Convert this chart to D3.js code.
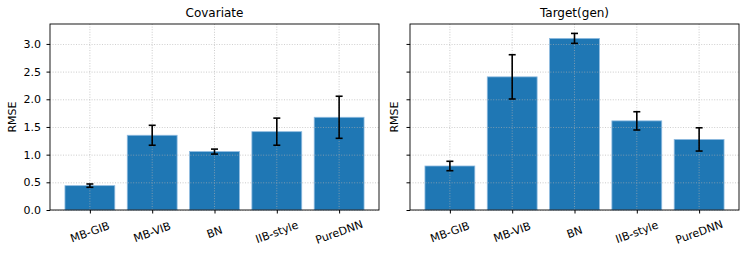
<!DOCTYPE html>
<html>
<head>
<meta charset="utf-8">
<script src="https://cdn.jsdelivr.net/npm/d3@7"></script>
<style>
  body { margin: 0; background: #fff; }
  text { font-family: "DejaVu Sans", sans-serif; fill: #000; }
</style>
</head>
<body>
<div id="chart"></div>
<script>
// methods shown on the x axis
const methods = ["MB-GIB", "MB-VIB", "BN", "IIB-style", "PureDNN"];

// Covariate panel
const covMean = [0.44, 1.35, 1.055, 1.415, 1.675];
const covErr = [0.03, 0.18, 0.045, 0.245, 0.38];

// Target(gen) panel
const genMean = [0.795, 2.405, 3.10, 1.61, 1.275];
const genErr = [0.085, 0.40, 0.09, 0.165, 0.21];

const yTicks = [0, 0.5, 1.0, 1.5, 2.0, 2.5, 3.0];

const panels = [
    {title: "Covariate", mean: covMean, err: covErr, left: 50, showLabels: true},
    {title: "Target(gen)", mean: genMean, err: genErr, left: 410, showLabels: false}
];

const width = 747, height = 255;
const plotW = 329, plotTop = 24, plotBottom = 210;

const svg = d3.select("#chart").append("svg")
    .attr("width", width)
    .attr("height", height);

const y = d3.scaleLinear().domain([0, 3.36]).range([plotBottom, plotTop]);

panels.forEach(p => {
    const x = d3.scaleLinear().domain([-0.64, 4.64]).range([p.left, p.left + plotW]);
    const g = svg.append("g");

    // bars
    g.selectAll(".bar")
        .data(p.mean)
        .enter()
            .append("rect")
            .attr("x", (d, i) => x(i - 0.4))
            .attr("width", x(0.8) - x(0))
            .attr("y", d => y(d))
            .attr("height", d => y(0) - y(d))
            .attr("fill", "#1f77b4")
            .attr("stroke", "#8fbbe0")
            .attr("stroke-width", 0.8);

    // dotted grid (drawn over the bars)
    g.selectAll(".gy")
        .data(yTicks)
        .enter()
            .append("line")
            .attr("x1", p.left).attr("x2", p.left + plotW)
            .attr("y1", d => y(d) + 0.5).attr("y2", d => y(d) + 0.5)
            .attr("stroke", "#b0b0b0")
            .attr("stroke-width", 0.8)
            .attr("stroke-dasharray", "1,1.6")
            .attr("opacity", 0.8);

    g.selectAll(".gx")
        .data(methods)
        .enter()
            .append("line")
            .attr("x1", (d, i) => x(i)).attr("x2", (d, i) => x(i))
            .attr("y1", plotTop).attr("y2", plotBottom)
            .attr("stroke", "#b0b0b0")
            .attr("stroke-width", 0.8)
            .attr("stroke-dasharray", "1,1.6")
            .attr("opacity", 0.8);

    // error bars
    const eb = g.selectAll(".err")
        .data(p.mean)
        .enter()
            .append("g");
    eb.append("line")
        .attr("x1", (d, i) => x(i)).attr("x2", (d, i) => x(i))
        .attr("y1", (d, i) => y(d - p.err[i])).attr("y2", (d, i) => y(d + p.err[i]))
        .attr("stroke", "#000").attr("stroke-width", 1.6);
    [-1, 1].forEach(s => {
        eb.append("line")
            .attr("x1", (d, i) => x(i) - 3.5).attr("x2", (d, i) => x(i) + 3.5)
            .attr("y1", (d, i) => y(d + s * p.err[i])).attr("y2", (d, i) => y(d + s * p.err[i]))
            .attr("stroke", "#000").attr("stroke-width", 1.6);
    });

    // frame
    g.append("rect")
        .attr("x", p.left).attr("y", plotTop)
        .attr("width", plotW).attr("height", plotBottom - plotTop)
        .attr("fill", "none")
        .attr("stroke", "#000")
        .attr("stroke-width", 0.9);

    // y axis
    const yAxis = d3.axisLeft(y).tickValues(yTicks).tickSize(3.5).tickPadding(5.5)
        .tickFormat(p.showLabels ? d3.format(".1f") : "");
    const ya = g.append("g").attr("transform", `translate(${p.left},0)`).call(yAxis);
    ya.select(".domain").remove();
    ya.selectAll("text").attr("font-size", 11).style("font-family", "DejaVu Sans");

    // x axis
    const xAxis = d3.axisBottom(x).tickValues(d3.range(methods.length)).tickSize(3.5)
        .tickFormat("");
    const xa = g.append("g").attr("transform", `translate(0,${plotBottom})`).call(xAxis);
    xa.select(".domain").remove();

    g.selectAll(".xl")
        .data(methods)
        .enter()
            .append("text")
            .attr("transform", (d, i) => `translate(${x(i)},${plotBottom + 22}) rotate(-20)`)
            .attr("text-anchor", "middle")
            .attr("dy", "0.35em")
            .attr("font-size", 11)
            .text(d => d);

    // title and y label
    g.append("text")
        .attr("x", p.left + plotW / 2).attr("y", plotTop - 7)
        .attr("text-anchor", "middle")
        .attr("font-size", 12)
        .text(p.title);

    g.append("text")
        .attr("transform", `translate(${p.left - (p.showLabels ? 34 : 12)},${(plotTop + plotBottom) / 2}) rotate(-90)`)
        .attr("text-anchor", "middle")
        .attr("font-size", 11)
        .text("RMSE");
});
</script>
</body>
</html>
